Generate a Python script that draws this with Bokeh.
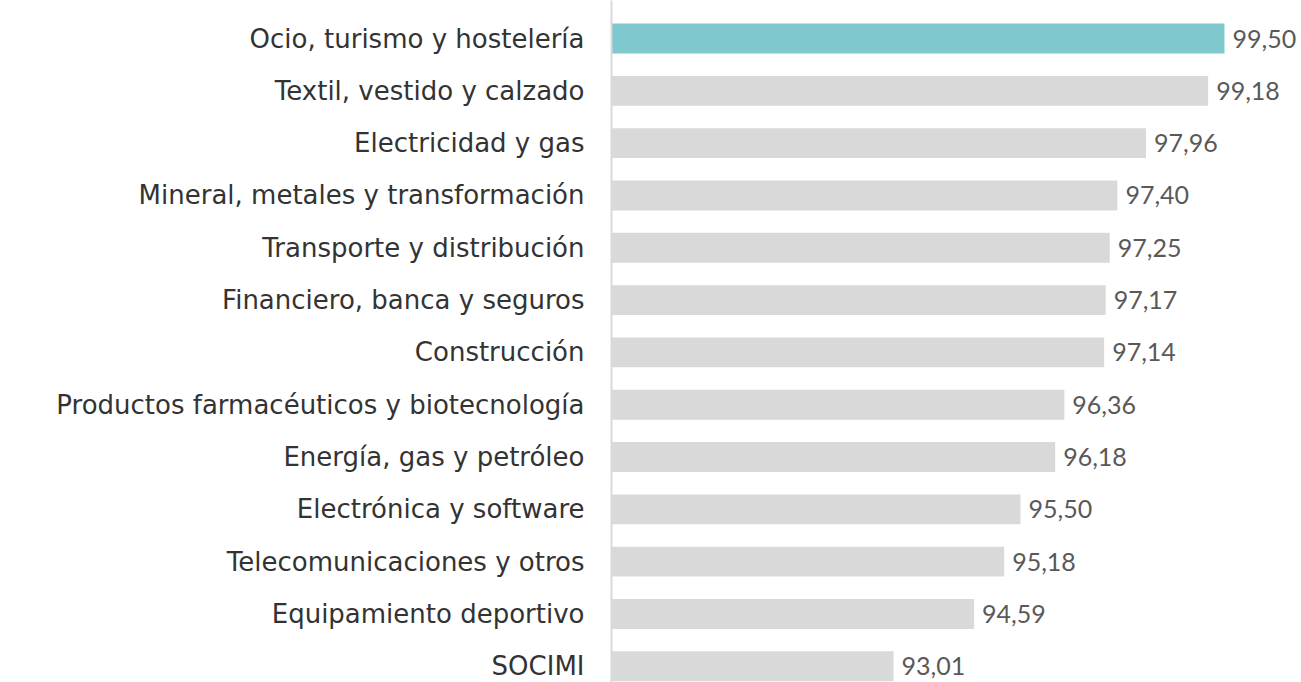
from bokeh.plotting import figure
from bokeh.models import Range1d, FixedTicker, ColumnDataSource
from bokeh.core.properties import value
from bokeh.embed import file_html
from bokeh.resources import INLINE

categories = [
    "Ocio, turismo y hostelería",
    "Textil, vestido y calzado",
    "Electricidad y gas",
    "Mineral, metales y transformación",
    "Transporte y distribución",
    "Financiero, banca y seguros",
    "Construcción",
    "Productos farmacéuticos y biotecnología",
    "Energía, gas y petróleo",
    "Electrónica y software",
    "Telecomunicaciones y otros",
    "Equipamiento deportivo",
    "SOCIMI",
]
values = [99.50, 99.18, 97.96, 97.40, 97.25, 97.17, 97.14, 96.36, 96.18, 95.50, 95.18, 94.59, 93.01]
highlight = "Ocio, turismo y hostelería"

TEAL = "#7FC9CE"
GRAY = "#D9D9D9"

pos = list(range(len(categories)))
colors = [TEAL if c == highlight else GRAY for c in categories]
labels = [f"{v:.2f}".replace(".", ",") for v in values]

src = ColumnDataSource(dict(y=pos, x=values, color=colors, label=labels))

XMIN = 87.48
p = figure(width=1301, height=682, output_backend="svg", toolbar_location=None,
           x_range=Range1d(XMIN, 101.01), y_range=Range1d(12.31, -0.727),
           min_border_left=611, min_border_right=0, min_border_top=0, min_border_bottom=0)

p.hbar(y="y", left=XMIN, right="x", height=0.57, color="color", line_color=None, source=src)
p.text(x="x", y="y", text="label", source=src, x_offset=8, y_offset=0, text_baseline="middle",
       text_align="left", text_font=value("Lato"), text_font_size="25px", text_color="#595959")

p.xaxis.visible = False
p.grid.visible = False
p.outline_line_color = None

ya = p.yaxis[0]
ya.ticker = FixedTicker(ticks=pos)
ya.major_label_overrides = {i: c for i, c in enumerate(categories)}
ya.major_tick_line_color = None
ya.minor_tick_line_color = None
ya.major_tick_out = 0
ya.major_tick_in = 0
ya.major_label_standoff = 27
ya.axis_line_color = "#D9D9D9"
ya.axis_line_width = 2
ya.major_label_text_font = "DejaVu Sans"
ya.major_label_text_font_size = "26px"
ya.major_label_text_color = "#333333"

open("out.html", "w").write(file_html(p, INLINE))
